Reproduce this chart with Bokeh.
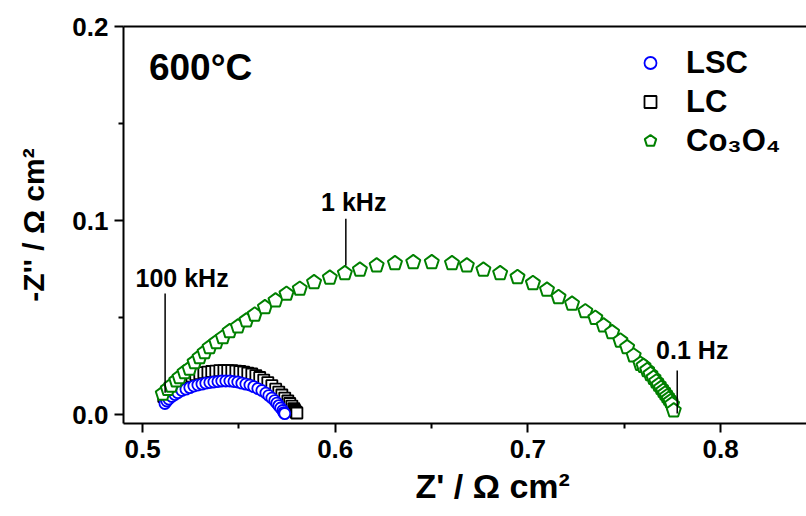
from bokeh.plotting import figure
from bokeh.models import Range1d, LinearAxis, FixedTicker, Legend, LegendItem, Label, Title
from bokeh.embed import file_html
from bokeh.resources import INLINE
from bokeh.core.properties import value

# ---------------- data ----------------
series_labels = ["LSC", "LC", "Co\u2083O\u2084"]

lsc_zre = [0.5116, 0.5126, 0.5136, 0.5152, 0.5168, 0.5183, 0.5204, 0.5225, 0.5245, 0.5266,
           0.5287, 0.5308, 0.5328, 0.5349, 0.5370, 0.5391, 0.5411, 0.5432, 0.5453, 0.5474,
           0.5494, 0.5515, 0.5536, 0.5557, 0.5577, 0.5598, 0.5619, 0.5640, 0.5655, 0.5671,
           0.5686, 0.5697, 0.5707, 0.5717, 0.5728, 0.5733, 0.5738]
lsc_zim = [0.0057, 0.0070, 0.0080, 0.0093, 0.0103, 0.0113, 0.0124, 0.0131, 0.0139, 0.0147,
           0.0152, 0.0157, 0.0162, 0.0165, 0.0168, 0.0170, 0.0173, 0.0173, 0.0173, 0.0170,
           0.0168, 0.0162, 0.0157, 0.0152, 0.0144, 0.0134, 0.0124, 0.0111, 0.0098, 0.0085,
           0.0072, 0.0059, 0.0046, 0.0034, 0.0021, 0.0010, 0.0005]

lc_zre = [0.5110, 0.5121, 0.5136, 0.5152, 0.5173, 0.5193, 0.5214, 0.5235, 0.5256, 0.5276,
          0.5297, 0.5318, 0.5339, 0.5359, 0.5380, 0.5401, 0.5422, 0.5442, 0.5463, 0.5484,
          0.5505, 0.5525, 0.5546, 0.5567, 0.5588, 0.5608, 0.5629, 0.5650, 0.5671, 0.5691,
          0.5707, 0.5723, 0.5738, 0.5754, 0.5764, 0.5775, 0.5785, 0.5790, 0.5796, 0.5801]
lc_zim = [0.0093, 0.0108, 0.0124, 0.0139, 0.0155, 0.0168, 0.0180, 0.0191, 0.0198, 0.0206,
          0.0211, 0.0216, 0.0219, 0.0222, 0.0224, 0.0227, 0.0227, 0.0227, 0.0227, 0.0224,
          0.0222, 0.0219, 0.0214, 0.0209, 0.0201, 0.0191, 0.0178, 0.0165, 0.0149, 0.0131,
          0.0116, 0.0101, 0.0085, 0.0070, 0.0057, 0.0044, 0.0031, 0.0021, 0.0013, 0.0008]

co_zre = [0.5105, 0.5131, 0.5149, 0.5175, 0.5192, 0.5218, 0.5244, 0.5270, 0.5296, 0.5322,
          0.5348, 0.5383, 0.5417, 0.5452, 0.5495, 0.5539, 0.5582, 0.5635, 0.5690, 0.5747,
          0.5816, 0.5890, 0.5972, 0.6050, 0.6128, 0.6215, 0.6310, 0.6405, 0.6501, 0.6606,
          0.6683, 0.6769, 0.6856, 0.6946, 0.7026, 0.7099, 0.7159, 0.7229, 0.7298, 0.7350,
          0.7393, 0.7437, 0.7480, 0.7515, 0.7549, 0.7584, 0.7600, 0.7619, 0.7636, 0.7652,
          0.7666, 0.7679, 0.7691, 0.7702, 0.7712, 0.7722, 0.7731, 0.7740, 0.7748, 0.7757]
co_zim = [0.0107, 0.0132, 0.0149, 0.0175, 0.0192, 0.0218, 0.0236, 0.0270, 0.0295, 0.0321,
          0.0347, 0.0373, 0.0398, 0.0429, 0.0454, 0.0485, 0.0515, 0.0553, 0.0588, 0.0622,
          0.0648, 0.0682, 0.0705, 0.0728, 0.0746, 0.0768, 0.0780, 0.0785, 0.0785, 0.0780,
          0.0768, 0.0746, 0.0728, 0.0708, 0.0677, 0.0643, 0.0605, 0.0571, 0.0532, 0.0498,
          0.0459, 0.0424, 0.0381, 0.0347, 0.0304, 0.0261, 0.0250, 0.0229, 0.0208, 0.0189,
          0.0170, 0.0153, 0.0137, 0.0122, 0.0108, 0.0094, 0.0081, 0.0068, 0.0053, 0.0021]

x_ticks = [0.5, 0.6, 0.7, 0.8]
x_minor = [0.55, 0.65, 0.75, 0.85]
y_ticks = [0.0, 0.1, 0.2]
y_minor = [0.05, 0.15]

freq_labels = ["100 kHz", "1 kHz", "0.1 Hz"]
freq_line_x = [0.5117, 0.6055, 0.7775]
freq_line_y0 = [0.0113, 0.0768, 0.0005]
freq_line_y1 = [0.0624, 0.1009, 0.0227]
freq_text_x = [0.5205, 0.6096, 0.7853]
freq_text_y = [0.0706, 0.1098, 0.0333]

temp_label = "600\u00b0C"
x_title = "Z' / \u03a9 cm\u00b2"
y_title = "-Z'' / \u03a9 cm\u00b2"

FONT = "Liberation Sans"
BLUE = "#0000ff"
GREEN = "#008000"

# ---------------- figure ----------------
p = figure(width=806, height=516, output_backend="svg", toolbar_location=None,
           x_range=Range1d(0.4901, 0.8446), y_range=Range1d(-0.0046, 0.2),
           min_border_left=123, min_border_right=0, min_border_top=26, min_border_bottom=93)
p.outline_line_color = None
p.xgrid.grid_line_color = None
p.ygrid.grid_line_color = None
p.background_fill_color = "white"
p.border_fill_color = "white"

xa = p.xaxis[0]
ya = p.yaxis[0]
xa.ticker = FixedTicker(ticks=x_ticks, minor_ticks=x_minor)
ya.ticker = FixedTicker(ticks=y_ticks, minor_ticks=y_minor)
xa.major_label_overrides = {0.5: "0.5", 0.6: "0.6", 0.7: "0.7", 0.8: "0.8"}
ya.major_label_overrides = {0.0: "0.0", 0.1: "0.1", 0.2: "0.2"}
for ax in (xa, ya):
    ax.axis_line_width = 2
    ax.major_tick_line_width = 2
    ax.minor_tick_line_width = 2
    ax.major_tick_in = 0
    ax.major_tick_out = 9
    ax.minor_tick_in = 0
    ax.minor_tick_out = 5
    ax.major_label_text_font = FONT
    ax.major_label_text_font_style = "bold"
    ax.major_label_text_font_size = "26px"
    ax.major_label_text_color = "black"
    ax.axis_label_text_font = FONT
    ax.axis_label_text_font_style = "bold"
    ax.axis_label_text_color = "black"
xa.major_label_standoff = 7
ya.major_label_standoff = 6
ya.axis_label = y_title
ya.axis_label_text_font_size = "30px"
ya.axis_label_standoff = 19

top = LinearAxis(ticker=FixedTicker(ticks=[]), axis_line_width=2,
                 major_tick_line_color=None, minor_tick_line_color=None,
                 major_label_text_color=None)
p.add_layout(top, "above")

# x-axis title, placed below the axis and shifted to where the reference centres it
p.add_layout(Title(text=x_title, align="left", offset=292, standoff=9,
                   text_font=FONT, text_font_style="bold", text_font_size="34px",
                   text_color="black", background_fill_color=None), "below")

# ---------------- data glyphs ----------------
r_lc = p.scatter(lc_zre, lc_zim, marker="square", size=11, fill_color="white",
                 line_color="black", line_width=1.8)
r_lsc = p.scatter(lsc_zre, lsc_zim, marker="circle", size=11, fill_color="white",
                  line_color=BLUE, line_width=1.8)
if hasattr(p, "ngon"):
    r_co = p.ngon(x=co_zre, y=co_zim, radius=7.4, radius_units="screen", n=5, angle=0,
                  fill_color="white", line_color=GREEN, line_width=2)
else:
    r_co = p.scatter(co_zre, co_zim, marker="hex", size=14, fill_color="white",
                     line_color=GREEN, line_width=2)

# frequency markers
p.segment(x0=freq_line_x, y0=freq_line_y0, x1=freq_line_x, y1=freq_line_y1,
          line_color="black", line_width=1.5)
p.text(x=freq_text_x, y=freq_text_y, text=freq_labels, text_font=value(FONT),
       text_font_style="bold", text_font_size="25px", text_align="center",
       text_baseline="alphabetic", text_color="black")

p.add_layout(Label(x=0.5033, y=0.1787, text=temp_label, text_font=FONT,
                   text_font_style="bold", text_font_size="37px",
                   text_baseline="alphabetic", text_color="black"))

legend = Legend(items=[LegendItem(label=series_labels[0], renderers=[r_lsc]),
                       LegendItem(label=series_labels[1], renderers=[r_lc]),
                       LegendItem(label=series_labels[2], renderers=[r_co])],
                location=(512, 263), orientation="vertical",
                border_line_color=None, background_fill_alpha=0,
                label_text_font=FONT, label_text_font_style="bold",
                label_text_font_size="31px", label_text_color="black",
                glyph_width=30, glyph_height=39, label_height=39,
                label_standoff=21, spacing=0, padding=0, margin=0)
p.add_layout(legend)

open("out.html", "w").write(file_html(p, INLINE))
